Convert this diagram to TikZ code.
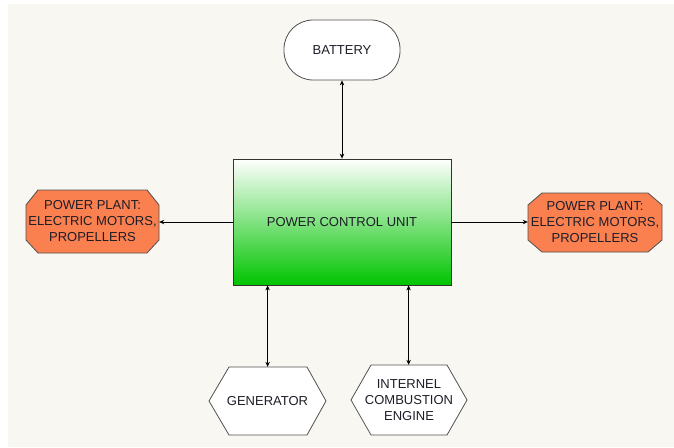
\documentclass[tikz,border=0pt]{standalone}
\usepackage{fontspec}
\setmainfont{Liberation Sans}
\usetikzlibrary{arrows.meta,calc}
\definecolor{bgcream}{RGB}{249,247,241}
\definecolor{edgegray}{RGB}{80,80,80}
\definecolor{plantorange}{RGB}{250,128,80}
\definecolor{pcugreen}{RGB}{0,196,0}
\definecolor{txtcol}{RGB}{30,30,40}
\tikzset{
  lbl/.style={font=\fontsize{13}{16}\selectfont, text=txtcol, align=center, inner sep=0pt},
  shapeline/.style={draw=edgegray, line width=0.8pt, line join=round},
  conn/.style={draw=black, line width=0.7pt, >={Stealth[length=5pt,width=4.5pt]}},
}
\begin{document}
\begin{tikzpicture}[x=1pt,y=-1pt]
\useasboundingbox (0,0) rectangle (674,447);
\fill[white] (0,0) rectangle (674,447);
\fill[bgcream] (8,4) rectangle (674,447);

% battery
\node[lbl, shapeline, fill=white, rounded corners=29pt, minimum width=116pt, minimum height=60pt] (bat) at (342,50) {BATTERY};

% power control unit
\node[lbl, draw=black!80, line width=0.8pt, top color=white, bottom color=pcugreen, minimum width=218pt, minimum height=126pt] (pcu) at (342,222) {POWER CONTROL UNIT};

% left octagon
\draw[shapeline, fill=plantorange] (38,190) -- (147,190) -- (159,205) -- (159,240) -- (147,253) -- (38,253) -- (26,240) -- (26,205) -- cycle;
\node[lbl, minimum width=133pt, minimum height=63pt] (plL) at (92.5,221.5) {POWER PLANT:\\ELECTRIC MOTORS,\\PROPELLERS};

% right octagon
\draw[shapeline, fill=plantorange] (542,193) -- (648,193) -- (662,205) -- (662,240) -- (648,252) -- (542,252) -- (528,240) -- (528,205) -- cycle;
\node[lbl, minimum width=134pt, minimum height=59pt] (plR) at (595,222) {POWER PLANT:\\ELECTRIC MOTORS,\\PROPELLERS};

% generator hexagon
\draw[shapeline, fill=white] (229,367) -- (307,367) -- (326,401) -- (307,435) -- (229,435) -- (209,401) -- cycle;
\node[lbl, minimum width=117pt, minimum height=68pt] (gen) at (267.5,401) {GENERATOR};

% ICE hexagon
\draw[shapeline, fill=white] (371,365) -- (447,365) -- (467,400) -- (447,435) -- (371,435) -- (351,400) -- cycle;
\node[lbl, minimum width=116pt, minimum height=70pt] (ice) at (409,400) {INTERNEL\\COMBUSTION\\ENGINE};

% connectors
\draw[conn, <->] (bat.south) -- (pcu.north);
\draw[conn, ->] (pcu.west) -- (pcu.west -| plL.east);
\draw[conn, ->] (pcu.east) -- (pcu.east -| plR.west);
\coordinate (g1) at ($(pcu.south west)+(35,0)$);
\coordinate (i1) at ($(pcu.south west)+(176,0)$);
\draw[conn, <->] (g1) -- (g1 |- gen.north);
\draw[conn, <->] (i1) -- (i1 |- ice.north);
\end{tikzpicture}
\end{document}
